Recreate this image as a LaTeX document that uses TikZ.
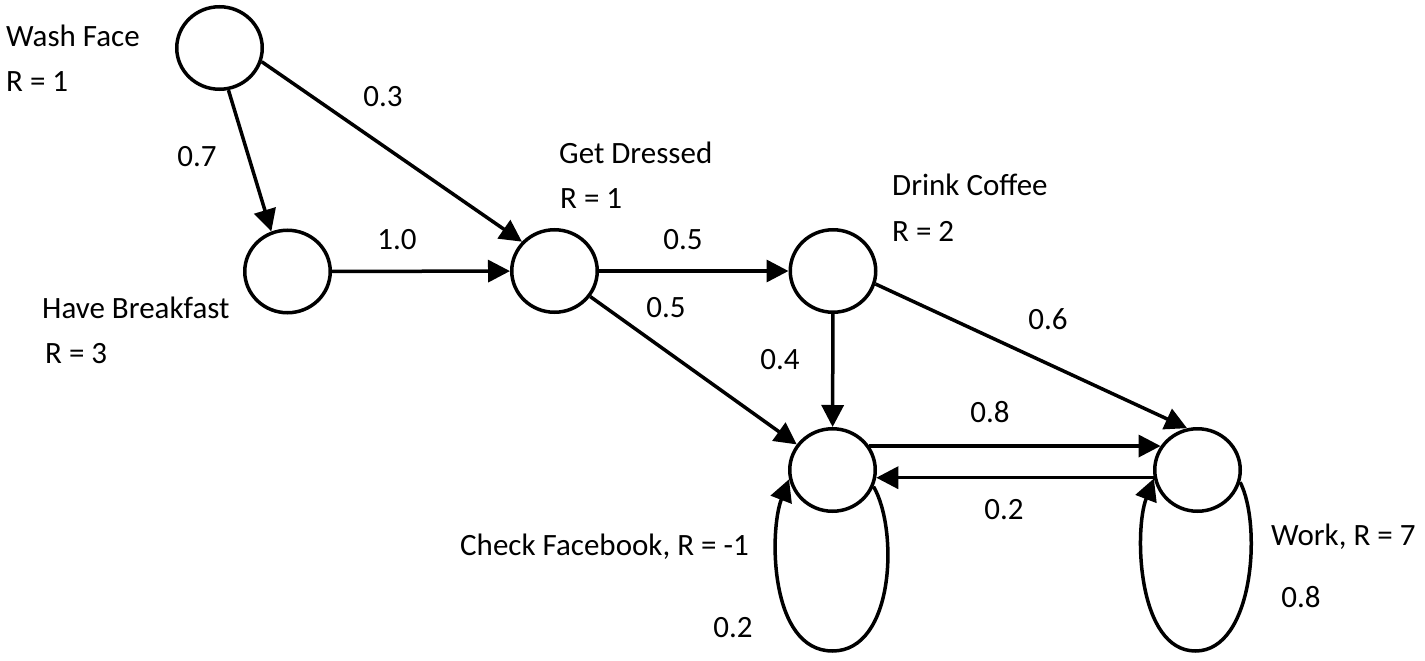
\documentclass[tikz,border=0pt]{standalone}
\usepackage{fontspec}
\setmainfont{Carlito}
\usetikzlibrary{arrows.meta,shapes.geometric,calc}
\begin{document}
\begin{tikzpicture}[x=1pt,y=-1pt,
  state/.style={ellipse,draw,line width=3.5pt,minimum width=85.5pt,minimum height=82.5pt,inner sep=0pt},
  arr/.style={line width=3.5pt,-{Triangle[length=22pt,width=22pt]}},
  lbl/.style={font=\fontsize{31}{37}\selectfont,inner sep=0pt,anchor=base west},
  num/.style={font=\fontsize{31}{37}\selectfont,inner sep=0pt,anchor=center}]
\useasboundingbox (0,0) rectangle (1425,661);
% states
\node[state] (wf) at (219.5,48) {};
\node[state] (hb) at (287.5,271.5) {};
\node[state] (gd) at (554.5,271) {};
\node[state] (dc) at (833,271) {};
\node[state] (cf) at (832.5,470) {};
\node[state] (wk) at (1197.5,470) {};
% state labels
\node[lbl] (lwf1) at (6,47) {Wash Face};
\node[lbl] (lwf2) at (6,92) {R = 1};
\node[lbl] (lhb1) at (42,318) {Have Breakfast};
\node[lbl] (lhb2) at (45,363) {R = 3};
\node[lbl] (lgd1) at (559,163) {Get Dressed};
\node[lbl] (lgd2) at (560,208) {R = 1};
\node[lbl] (ldc1) at (892,195) {Drink Coffee};
\node[lbl] (ldc2) at (892,241) {R = 2};
\node[lbl] (lcf) at (460,555) {Check Facebook, R = -1};
\node[lbl] (lwk) at (1271,545) {Work, R = 7};
% transitions
\draw[arr] (wf.-78) -- (hb.112);
\draw[arr] (wf.-18) -- (gd.138.5);
\draw[arr] (hb) -- (gd);
\draw[arr] (gd) -- (dc);
\draw[arr] (gd) -- (cf);
\draw[arr] (dc) -- (cf);
\draw[arr] (dc.-17.6) -- (wk.104);
\draw[arr] (cf.33) -- (wk.147);
\draw[arr] (wk.190) -- (cf.-10);
% self loops
\coordinate (cfb) at ($(cf.center)+(0,181)$);
\coordinate (wkb) at ($(wk.center)+(-2,181)$);
\draw[arr] (cf.-22) .. controls +(25,43) and +(62,0) .. (cfb) .. controls +(-63,0) and +(-20,52) .. (cf.192);
\draw[arr] (wk.-16) .. controls +(22,43) and +(58,0) .. (wkb) .. controls +(-58,0) and +(-20,52) .. (wk.191);
% probabilities
\node[num] (p1) at (197,157) {0.7};
\node[num] (p2) at (383,97) {0.3};
\node[num] (p3) at (397,240) {1.0};
\node[num] (p4) at (683,240) {0.5};
\node[num] (p5) at (666,308) {0.5};
\node[num] (p6) at (780,360) {0.4};
\node[num] (p7) at (1048,319) {0.6};
\node[num] (p8) at (990,412) {0.8};
\node[num] (p9) at (1004,510) {0.2};
\node[num] (p10) at (733,628) {0.2};
\node[num] (p11) at (1301,597) {0.8};
\end{tikzpicture}
\end{document}
